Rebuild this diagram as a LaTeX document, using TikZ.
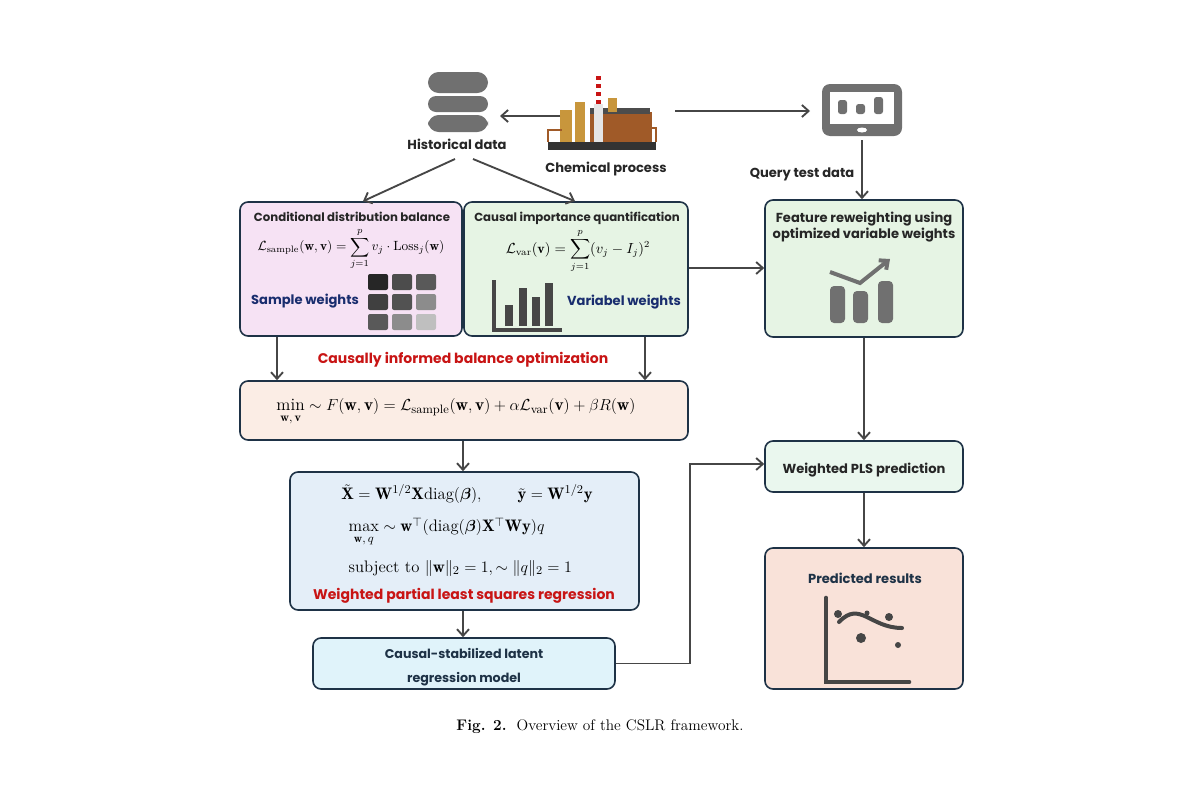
\documentclass[tikz,border=0pt]{standalone}
\usepackage{amsmath}
\usepackage{amssymb}
\usepackage{bm}
\usepackage{fontspec}
\setsansfont{Poppins}
\usetikzlibrary{arrows.meta}
\usetikzlibrary{positioning}
\definecolor{mnavy}{RGB}{30, 50, 70}
\definecolor{mgray}{RGB}{70, 70, 70}
\definecolor{iconGray}{RGB}{112, 112, 112}
\definecolor{mred}{RGB}{200, 20, 20}
\definecolor{mblue}{RGB}{25, 45, 110}
\definecolor{pinkFill}{RGB}{246, 226, 244}
\definecolor{greenFill}{RGB}{230, 244, 228}
\definecolor{peachFill}{RGB}{251, 237, 229}
\definecolor{blueFill}{RGB}{228, 238, 248}
\definecolor{cyanFill}{RGB}{224, 243, 250}
\definecolor{mintFill}{RGB}{234, 247, 238}
\definecolor{salmonFill}{RGB}{249, 226, 217}
\definecolor{rust}{RGB}{160, 90, 40}
\definecolor{gold}{RGB}{200, 150, 60}

\tikzset{
  box/.style={draw=mnavy, line width=1.2pt, rounded corners=6pt, inner sep=0pt},
  arr/.style={draw=mgray, line width=1.4pt, -{Straight Barb[length=5pt, width=9pt]}},
  ttl/.style={font=\sffamily\bfseries\fontsize{9.8}{12}\selectfont, text=black!85},
  headttl/.style={font=\sffamily\bfseries\fontsize{8.8}{11}\selectfont, text=black!85},
  redttl/.style={font=\sffamily\bfseries\fontsize{10.5}{12}\selectfont, text=mred},
}

\begin{document}
\begin{tikzpicture}[x=0.75pt, y=-0.75pt]
    \useasboundingbox (0, 0) rectangle (1200, 800);

    % boxes
    \node [box, fill=pinkFill, minimum width=166.5pt, minimum height=100.5pt] (cond) at (351, 269) {};
    \node [box, fill=greenFill, minimum width=168pt, minimum height=100.5pt] (causal) at (576, 269) {};
    \node [box, fill=greenFill, minimum width=148.5pt, minimum height=102.75pt] (feat) at (864, 268.5) {};
    \node [box, fill=peachFill, minimum width=336pt, minimum height=44.25pt] (opt) at (464, 410.5) {};
    \node [box, fill=blueFill, minimum width=261.75pt, minimum height=103.5pt] (wpls) at (464.5, 541) {};
    \node [box, fill=cyanFill, minimum width=226.5pt, minimum height=38.25pt] (model) at (464, 663.5) {};
    \node [box, fill=mintFill, minimum width=148.5pt, minimum height=38.25pt] (pred) at (864, 466.5) {};
    \node [box, fill=salmonFill, minimum width=148.5pt, minimum height=105.75pt] (res) at (864, 618.5) {};

    % database icon
    \fill [iconGray, rounded corners=8pt] (428, 72) rectangle (488, 93);
    \fill [iconGray, rounded corners=6pt] (428, 96) rectangle (488, 112);
    \fill [iconGray, rounded corners=8pt] (428, 115) rectangle (488, 132);
    \node [ttl] (hist) at (457, 144) {Historical data};

    % factory icon
    \fill [black!80] (548, 142) rectangle (656, 150);
    \fill [rust] (590, 112) rectangle (652, 142);
    \fill [black!70] (590, 108) rectangle (650, 114);
    \fill [gold] (560, 110) rectangle (572, 142);
    \fill [gold] (575, 102) rectangle (585, 142);
    \fill [gold] (608, 98) rectangle (617, 112);
    \foreach \yy in {76, 84, 92, 100} \fill [mred] (596, \yy) rectangle (601, \yy+4);
    \fill [white!90!black] (594, 104) rectangle (603, 142);
    \draw [rust, line width=2pt] (548, 142) -- (548, 130) -- (562, 130);
    \draw [rust, line width=2pt] (656, 142) -- (656, 128) -- (640, 128);
    \coordinate (plant) at (560, 116);
    \node [ttl] (chem) at (606, 169) {Chemical process};

    % tablet icon
    \fill [iconGray, rounded corners=6pt] (822, 84) rectangle (902, 136);
    \fill [white] (830, 92) rectangle (894, 124);
    \fill [iconGray, rounded corners=2pt] (838, 100) rectangle (847, 114);
    \fill [iconGray, rounded corners=2pt] (856, 104) rectangle (865, 114);
    \fill [iconGray, rounded corners=2pt] (874, 97) rectangle (883, 114);
    \fill [white] (862, 130) ellipse (5 and 2.5);
    \coordinate (tab) at (862, 140);
    \node [ttl] (query) at (802, 174) {Query test data};

    % texts in cond
    \node [headttl, anchor=north] at (352, 207) {Conditional distribution balance};
    \node [font=\fontsize{10}{12}\selectfont] at (351, 249) {$\displaystyle\mathcal{L}_{\text{sample}}(\mathbf{w},\mathbf{v})=\sum_{j=1}^{p}v_j\cdot\mathrm{Loss}_j(\mathbf{w})$};
    \node [ttl, text=mblue] at (305, 301) {Sample weights};
    \foreach \c [count=\i from 0] in {85, 70, 65, 75, 68, 45, 65, 45, 25} {
      \pgfmathtruncatemacro{\cx}{mod(\i, 3)}
      \pgfmathtruncatemacro{\cy}{int(\i/3)}
      \fill [black!\c, rounded corners=1.5pt] (368 + 24*\cx, 274 + 20*\cy) rectangle ++(20, 16);
    }

    % texts in causal
    \node [headttl, anchor=north] at (577, 207) {Causal importance quantification};
    \node [font=\fontsize{10.5}{12}\selectfont] at (578, 251) {$\displaystyle\mathcal{L}_{\text{var}}(\mathbf{v})=\sum_{j=1}^{p}(v_j-I_j)^2$};
    \draw [mgray, line width=2.5pt] (494, 280) -- (494, 330) -- (562, 330);
    \fill [mgray] (505, 305) rectangle (513, 326);
    \fill [mgray] (519, 288) rectangle (527, 326);
    \fill [mgray] (532, 297) rectangle (540, 326);
    \fill [mgray] (545, 283) rectangle (553, 326);
    \node [ttl, text=mblue] at (624, 302) {Variabel weights};

    % texts in feat
    \node [ttl, align=center, anchor=north] at (864, 207) {Feature reweighting using\\optimized variable weights};
    \fill [iconGray, rounded corners=3pt] (830, 286) rectangle (845, 323);
    \fill [iconGray, rounded corners=3pt] (853, 291) rectangle (868, 323);
    \fill [iconGray, rounded corners=3pt] (878, 281) rectangle (893, 323);
    \draw [iconGray, line width=3pt, -{Straight Barb[length=5pt, width=9pt]}] (830, 272) -- (860, 283) -- (890, 259);

    % optimization
    \node [redttl] (cio) at (463, 360) {Causally informed balance optimization};
    \node [font=\fontsize{13}{15}\selectfont] at (456, 412) {$\min\limits_{\mathbf{w},\,\mathbf{v}}\sim F(\mathbf{w},\mathbf{v})=\mathcal{L}_{\text{sample}}(\mathbf{w},\mathbf{v})+\alpha\mathcal{L}_{\text{var}}(\mathbf{v})+\beta R(\mathbf{w})$};

    % wpls
    \node [font=\fontsize{12.5}{15}\selectfont] at (467, 494) {$\tilde{\mathbf{X}}=\mathbf{W}^{1/2}\mathbf{X}\mathrm{diag}(\bm{\beta}),\qquad\tilde{\mathbf{y}}=\mathbf{W}^{1/2}\mathbf{y}$};
    \node [font=\fontsize{12.5}{15}\selectfont, anchor=west] at (344, 532) {$\max\limits_{\mathbf{w},\,q}\sim\mathbf{w}^{\top}(\mathrm{diag}(\bm{\beta})\mathbf{X}^{\top}\mathbf{W}\mathbf{y})q$};
    \node [font=\fontsize{12.5}{15}\selectfont, anchor=west] at (344, 568) {subject to $\|\mathbf{w}\|_2=1,\sim\|q\|_2=1$};
    \node [redttl] at (464, 596) {Weighted partial least squares regression};

    % model
    \node [ttl, text=mnavy, align=center, font=\sffamily\bfseries\fontsize{9.5}{12}\selectfont] at (464, 667) {Causal-stabilized latent\\[6pt]regression model};

    % pred and res
    \node [ttl] at (864, 470) {Weighted PLS prediction};
    \node [ttl, text=mnavy] at (865, 578) {Predicted results};
    \draw [mgray, line width=3.5pt, line cap=round] (826, 598) -- (826, 682) -- (909, 682);
    \draw [mgray, line width=3pt, line cap=round] (839, 622) .. controls (860, 600) and (870, 628) .. (902, 628);
    \fill [mgray] (838, 614) circle (4);
    \fill [mgray] (867, 613) circle (2.5);
    \fill [mgray] (889, 617) circle (4);
    \fill [mgray] (861, 638) circle (5);
    \fill [mgray] (898, 645) circle (3);

    % connectors
    \draw [arr] (plant) -- (plant -| 500, 0);
    \draw [arr] (675, 111) coordinate (fac) -- (810, 111) coordinate (tabin);
    \draw [arr] (hist.south) ++(-2, 5) -- (cond.north -| 363, 0);
    \draw [arr] (hist.south) ++(16, 5) -- (causal.north -| 575, 0);
    \draw [arr] (tab) -- (feat.north -| tab);
    \draw [arr] (causal.east |- 0, 268) -- (feat.west |- 0, 268);
    \draw [arr] (cond.south -| 277, 0) -- (opt.north -| 277, 0);
    \draw [arr] (causal.south -| 645, 0) -- (opt.north -| 645, 0);
    \draw [arr] (opt.south -| 463, 0) -- (wpls.north -| 463, 0);
    \draw [arr] (wpls.south -| 463, 0) -- (model.north -| 463, 0);
    \draw [arr] (model.east) -- (690, 663.5) -- (690, 464) -- (pred.west |- 0, 464);
    \draw [arr] (feat.south) -- (pred.north);
    \draw [arr] (pred.south) -- (res.north);

    % caption
    \node [font=\fontsize{11.5}{14}\selectfont] (cap) at (600, 727) {\textbf{Fig. 2.}\ \ Overview of the CSLR framework.};
\end{tikzpicture}
\end{document}
